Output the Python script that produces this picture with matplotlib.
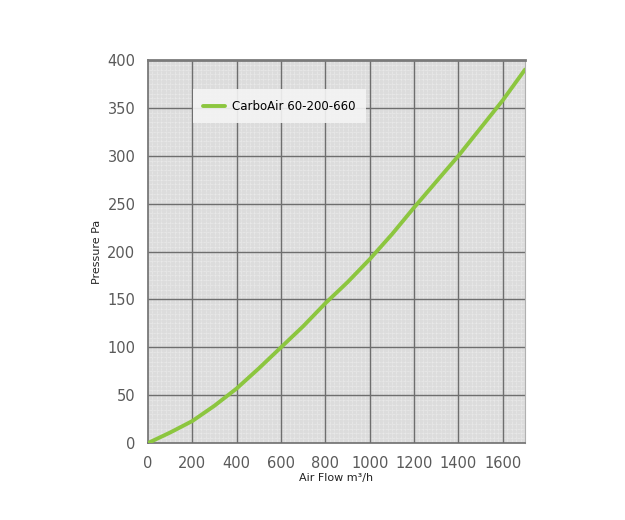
import matplotlib.pyplot as plt
from matplotlib.ticker import MultipleLocator, FixedLocator

flow = [0, 100, 200, 300, 400, 500, 600, 700, 800, 900, 1000, 1100, 1200,
        1300, 1400, 1500, 1600, 1700]
pressure = [0, 11, 23, 39, 57, 78, 100, 122, 146, 168, 192, 218, 246,
            273, 300, 329, 358, 390]
series_name = 'CarboAir 60-200-660'

fig = plt.figure(figsize=(6.25, 5.2), dpi=100)
ax = fig.add_axes([0.2368, 0.148, 0.6032, 0.7366])
ax.set_facecolor('#dcdcdc')

ax.plot(flow, pressure, color='#8cc63f', lw=2.8, label=series_name,
        solid_capstyle='round', zorder=3)

ax.set_xlim(0, 1700)
ax.set_ylim(0, 400)
ax.xaxis.set_major_locator(MultipleLocator(200))
ax.yaxis.set_major_locator(MultipleLocator(50))
ax.xaxis.set_minor_locator(FixedLocator([v for v in range(0, 1701, 20) if v % 200]))
ax.yaxis.set_minor_locator(FixedLocator([v for v in range(0, 401, 5) if v % 50]))

# fine dotted mesh below, heavy grid drawn on top of it
ax.grid(which='minor', color='#f0f0f0', lw=0.5, ls=(0, (1, 1)))
ax.set_axisbelow(True)
xt = [t for t in ax.get_xticks() if 0 < t < 1700]
yt = [t for t in ax.get_yticks() if 0 < t < 400]
ax.vlines(xt, 0, 400, colors='#6e6e6e', lw=1.0, zorder=1)
ax.hlines(yt, 0, 1700, colors='#6e6e6e', lw=1.0, zorder=1)

for side in ['left', 'bottom']:
    ax.spines[side].set_color('#6e6e6e')
    ax.spines[side].set_linewidth(1.2)
ax.spines['top'].set_color('#7a7a7a')
ax.spines['top'].set_linewidth(2.0)
ax.spines['right'].set_color('#b0b0b0')
ax.spines['right'].set_linewidth(0.8)

ax.tick_params(which='both', length=0, labelsize=10.5, labelcolor='#5a5a5a', pad=9)
ax.set_xlabel('Air Flow m³/h', fontsize=8, color='#222222', labelpad=2)
ax.set_ylabel('Pressure Pa', fontsize=8, color='#222222', labelpad=4)

leg = ax.legend(loc='upper left', bbox_to_anchor=(0.119, 0.924), frameon=True,
                fancybox=False, fontsize=8.5, handlelength=1.8, handletextpad=0.6,
                borderpad=0.9, borderaxespad=0)
leg.get_frame().set_facecolor('#f4f4f4')
leg.get_frame().set_edgecolor('none')
leg.get_frame().set_alpha(0.9)

fig.savefig('out.png')
